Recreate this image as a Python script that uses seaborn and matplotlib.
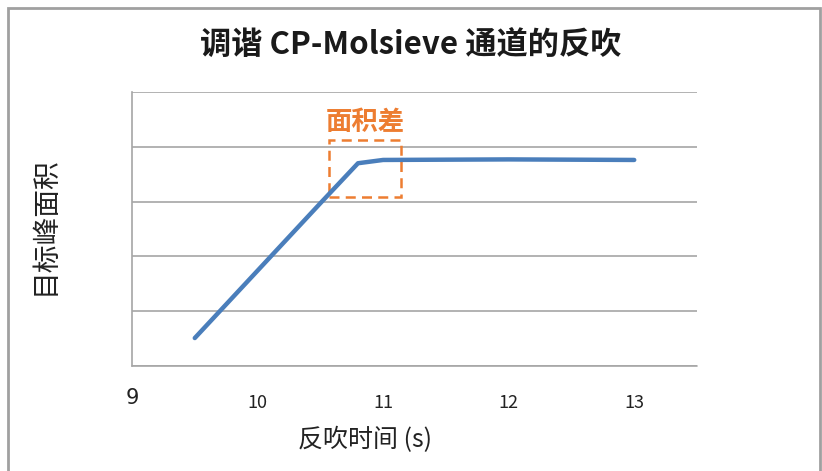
import matplotlib
matplotlib.use("Agg")
import matplotlib.pyplot as plt
import seaborn as sns
import pandas as pd
from matplotlib.patches import Rectangle

# data
backflush_time = [9.5, 10.0, 10.5, 10.8, 11.0, 12.0, 13.0]
peak_area = [0.51, 1.74, 2.97, 3.70, 3.76, 3.77, 3.76]
x_ticks = [10, 11, 12, 13]
y_grid = [0, 1, 2, 3, 4, 5]
box_x = [10.57, 11.14]
box_y = [3.08, 4.12]

sns.set_theme(style="white")
plt.rcParams["font.family"] = ["Noto Sans CJK SC", "DejaVu Sans"]

fig = plt.figure(figsize=(8.22, 4.71), dpi=100)
ax = fig.add_axes([132 / 822, 1 - 366 / 471, (697 - 132) / 822, (366 - 92) / 471])

df = pd.DataFrame({"t": backflush_time, "area": peak_area})
sns.lineplot(data=df, x="t", y="area", ax=ax, color="#4a7ebb", linewidth=3.2,
             solid_capstyle="round")

ax.set_xlim(9, 13.5)
ax.set_ylim(0, 5)
ax.set_yticks(y_grid)
ax.set_yticklabels([])
ax.tick_params(axis="y", length=0)
ax.yaxis.grid(True, color="#a6a6a6", linewidth=1.2)
ax.set_xticks(x_ticks)
ax.set_xticklabels([str(v) for v in x_ticks], fontsize=13, color="#222222")
ax.tick_params(axis="x", length=0, pad=20)
for s in ["top", "right", "bottom"]:
    ax.spines[s].set_visible(False)
ax.spines["left"].set_color("#a6a6a6")
ax.spines["left"].set_linewidth(1.2)
ax.axhline(0, color="#a6a6a6", linewidth=1.2, clip_on=False)

# the "9" sits apart from the other ticks in the original
fig.text(132 / 822, 1 - 398 / 471, "9", fontsize=15, family="DejaVu Sans",
         color="#222222", ha="center", va="center")

ax.set_xlabel("")
ax.set_ylabel("")
fig.text(365 / 822, 1 - 440 / 471, "反吹时间 (s)", fontsize=18,
         ha="center", va="center", color="#222222")
fig.text(45 / 822, 1 - 226 / 471, "目标峰面积", fontsize=20, rotation=90,
         ha="center", va="center", color="#222222")

fig.text(411 / 822, 1 - 45 / 471, "调谐 CP-Molsieve 通道的反吹", fontsize=22.5,
         fontweight="heavy", ha="center", va="center", color="#1a1a1a")

# dashed box and label
ax.add_patch(Rectangle((box_x[0], box_y[0]), box_x[1] - box_x[0], box_y[1] - box_y[0],
                       fill=False, edgecolor="#ed7d31", linewidth=1.8,
                       linestyle=(0, (4, 2.5))))
ax.text(sum(box_x) / 2, 4.45, "面积差", fontsize=19, fontweight="bold",
        color="#ed7d31", ha="center", va="center")

# outer chart frame
fig.patches.append(Rectangle((8 / 822, -0.05), (820 - 8) / 822, 1.05 - 8 / 471,
                             transform=fig.transFigure, fill=False,
                             edgecolor="#a0a0a0", linewidth=2, figure=fig))

fig.savefig("out.png", dpi=100)
